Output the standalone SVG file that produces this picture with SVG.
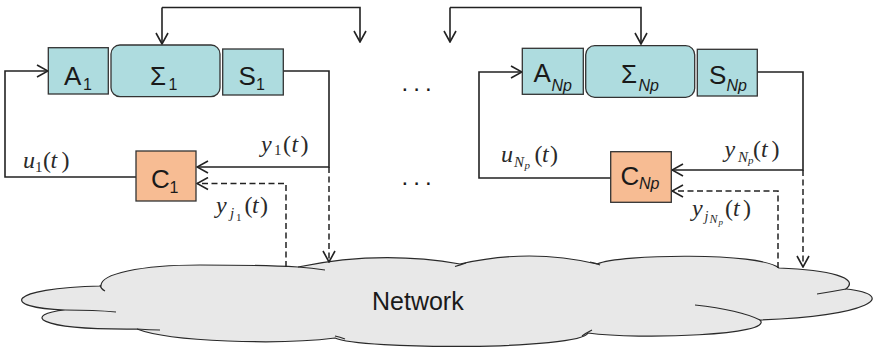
<svg xmlns="http://www.w3.org/2000/svg" width="874" height="349" viewBox="0 0 874 349">
<style>
.box{fill:#aedcdf;stroke:#333;stroke-width:1.3}
.ctl{fill:#f7bc93;stroke:#333;stroke-width:1.3}
.ln{fill:none;stroke:#222;stroke-width:1.6}
.dl{fill:none;stroke:#222;stroke-width:1.5;stroke-dasharray:6 3.5}
.cloud{fill:#e8e8e8;stroke:#2a2a2a;stroke-width:1.2}
.tail{fill:none;stroke:#2a2a2a;stroke-width:1.2}
.bl{font-family:"Liberation Sans",Arial,sans-serif;font-size:26px;fill:#1a1a1a}
.bs{font-size:16px}
.it{font-style:italic}
.m{font-family:"Liberation Serif","Times New Roman",serif;font-size:24px;fill:#2a2a2a}
.mi{font-style:italic}
.dots{font-family:"Liberation Sans",Arial,sans-serif;font-size:24px;fill:#1a1a1a;letter-spacing:5px}
</style>
<defs>
<marker id="ah" viewBox="-13 -7 14 14" refX="0" refY="0" markerWidth="14" markerHeight="14" markerUnits="userSpaceOnUse" orient="auto">
<path d="M-11,-6 L0,0 L-11,6" fill="none" stroke="#222" stroke-width="1.6"/>
</marker>
</defs>

<g id="network">
<path class="cloud" d="M101,286 C100,274 140,265 200,265 C250,265 280,266 298,267 Q380,250 460,264 Q530,248 597,264 C620,254 760,252 779,268 C830,270 860,278 846,289 C900,295 870,316 760,320 C775,335 640,340 588,333 C580,350 360,350 335,338 C280,345 170,342 137,329 C30,330 25,314 65,310 C0,308 5,288 101,286 Z"/>
<path class="tail" d="M100,285 Q101,289 105,291 M65,310 Q95,310 116,312 M137,329 Q150,330 160,330 M298,267 Q312,268 325,270 M455,266.5 Q460,265 466,263 M590,262 Q596,263 600,265 M846,289 Q830,292 817,294 M695,305 Q740,310 760,320 M582,336 Q586,333 592,330 M335,336 Q340,337 345,339"/>
<text x="372" y="310" font-family="Liberation Sans,Arial,sans-serif" font-size="25" fill="#1a1a1a">Network</text>
</g>

<g id="connectors">
<path class="ln" d="M162,7.5 L360,7.5 L360,42" marker-end="url(#ah)"/>
<path class="ln" d="M162,7.5 L162,44" marker-end="url(#ah)"/>
<path class="ln" d="M450,7.5 L641,7.5 L641,44" marker-end="url(#ah)"/>
<path class="ln" d="M450,7.5 L450,42" marker-end="url(#ah)"/>
<path class="ln" d="M283,71 L329,71 L329,167 L197,167" marker-end="url(#ah)"/>
<path class="dl" d="M329,167 L329,262" marker-end="url(#ah)"/>
<path class="dl" d="M286,267 L286,183.5 L197,183.5" marker-end="url(#ah)"/>
<path class="ln" d="M136,177 L5,177 L5,71 L48,71" marker-end="url(#ah)"/>
<path class="ln" d="M757,72 L803,72 L803,170 L672,170" marker-end="url(#ah)"/>
<path class="dl" d="M803,170 L803,267" marker-end="url(#ah)"/>
<path class="dl" d="M778,268 L778,191 L672,191" marker-end="url(#ah)"/>
<path class="ln" d="M611,178 L479,178 L479,72 L522,72" marker-end="url(#ah)"/>
</g>

<g id="node-A1"><rect class="box" x="48.3" y="47.7" width="60" height="46.3"/><text class="bl" x="64" y="85">A<tspan class="bs" x="83" y="90">1</tspan></text></g>
<g id="node-Sigma1"><rect class="box" x="111" y="45" width="109" height="51.7" rx="9"/><text class="bl" x="150" y="85">Σ<tspan class="bs" x="168.5" y="90">1</tspan></text></g>
<g id="node-S1"><rect class="box" x="222.7" y="49" width="60.6" height="46"/><text class="bl" x="238.5" y="85">S<tspan class="bs" x="256" y="90">1</tspan></text></g>
<g id="node-C1"><rect class="ctl" x="136" y="151" width="60" height="50"/><text class="bl" x="151" y="188">C<tspan class="bs" x="169.5" y="193">1</tspan></text></g>

<g id="node-ANp"><rect class="box" x="522.3" y="48.3" width="61" height="46"/><text class="bl" x="533.5" y="82">A<tspan class="bs it" x="551.5" y="90.5">Np</tspan></text></g>
<g id="node-SigmaNp"><rect class="box" x="585.7" y="45.7" width="109" height="51.6" rx="9"/><text class="bl" x="621" y="83">Σ<tspan class="bs it" x="638.5" y="90.5">Np</tspan></text></g>
<g id="node-SNp"><rect class="box" x="697.3" y="49.3" width="60" height="46.7"/><text class="bl" x="709" y="83.5">S<tspan class="bs it" x="726.5" y="90.5">Np</tspan></text></g>
<g id="node-CNp"><rect class="ctl" x="610.7" y="151.7" width="60.6" height="50.6"/><text class="bl" x="620.5" y="185">C<tspan class="bs it" x="639" y="188.5">Np</tspan></text></g>

<g id="labels">
<text class="m"><tspan class="mi" x="23" y="168.3">u</tspan><tspan x="35" y="171.5" font-size="15">1</tspan><tspan x="43" y="168.3">(</tspan><tspan class="mi" x="50.5" y="168.3">t</tspan><tspan x="61.5" y="168.3">)</tspan></text>
<text class="m"><tspan class="mi" x="261" y="151.7">y</tspan><tspan x="274" y="155" font-size="15">1</tspan><tspan x="283" y="151.7">(</tspan><tspan class="mi" x="291.5" y="151.7">t</tspan><tspan x="300.5" y="151.7">)</tspan></text>
<text class="m"><tspan class="mi" x="216" y="213.3">y</tspan><tspan class="mi" x="230" y="217.5" font-size="15">j</tspan><tspan x="236" y="220.5" font-size="11">1</tspan><tspan x="244.5" y="213.3">(</tspan><tspan class="mi" x="252" y="213.3">t</tspan><tspan x="260" y="213.3">)</tspan></text>
<text class="m"><tspan class="mi" x="501" y="161.7">u</tspan><tspan class="mi" x="514" y="166.5" font-size="15">N</tspan><tspan class="mi" x="524.5" y="168.5" font-size="11">p</tspan><tspan x="534.5" y="161.7">(</tspan><tspan class="mi" x="542" y="161.7">t</tspan><tspan x="550" y="161.7">)</tspan></text>
<text class="m"><tspan class="mi" x="724.5" y="156.7">y</tspan><tspan class="mi" x="738" y="161.5" font-size="15">N</tspan><tspan class="mi" x="748" y="163.5" font-size="11">p</tspan><tspan x="753" y="156.7">(</tspan><tspan class="mi" x="761" y="156.7">t</tspan><tspan x="771.5" y="156.7">)</tspan></text>
<text class="m"><tspan class="mi" x="692" y="216">y</tspan><tspan class="mi" x="704.5" y="220.5" font-size="14">j</tspan><tspan class="mi" x="709.5" y="222.5" font-size="12">N</tspan><tspan class="mi" x="718.5" y="224.5" font-size="9">p</tspan><tspan x="725" y="216">(</tspan><tspan class="mi" x="733" y="216">t</tspan><tspan x="743" y="216">)</tspan></text>
<text class="dots" x="401.6" y="90.8">...</text>
<text class="dots" x="401.6" y="184.8">...</text>
</g>
</svg>
